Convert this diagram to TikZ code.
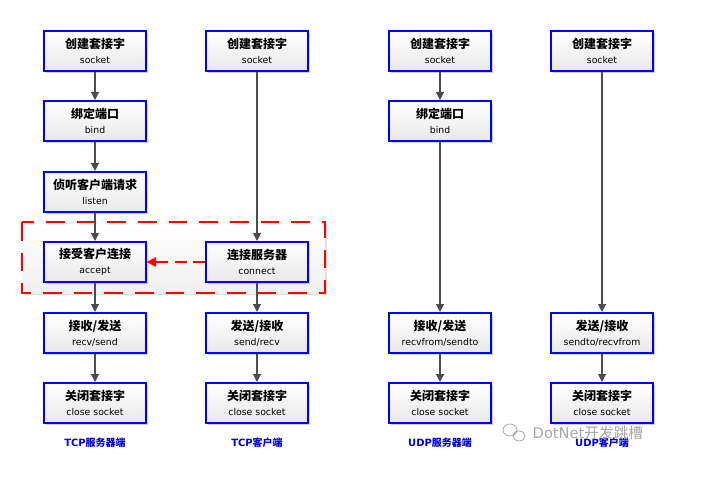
\documentclass[tikz,border=0pt]{standalone}
\usepackage{fontspec}
\setmainfont{DejaVu Sans}
\newfontfamily\cjk{Noto Sans CJK SC}
\usetikzlibrary{shadows,arrows.meta}

\begin{document}
\begin{tikzpicture}[x=0.75pt, y=-0.75pt,
  sockbox/.style={draw=blue, line width=1.5pt, minimum width=76pt, minimum height=30pt,
    inner sep=0pt, align=center, top color=white, bottom color=gray!18,
    drop shadow={shadow xshift=1.5pt, shadow yshift=-1.5pt, fill=gray!60, opacity=0.6},
    font=\fontsize{7}{11}\selectfont},
  flow/.style={draw=black!70, line width=0.8pt, -{Triangle[length=6pt, width=6pt]}},
  sidelabel/.style={text=blue!85!black, font=\fontsize{7.5}{9}\selectfont\bfseries}]
\useasboundingbox (0, 0) rectangle (717, 481);

% connection phase
\draw[red, line width=1.3pt, dash pattern=on 14pt off 9pt, top color=white, bottom color=gray!12,
  drop shadow={shadow xshift=1.5pt, shadow yshift=-1.5pt, fill=gray!50, opacity=0.5}]
  (22, 222) rectangle (325, 293);

% TCP server
\node[sockbox] (tsock) at (95, 51) {{\cjk\bfseries\fontsize{9}{10}\selectfont 创建套接字}\\socket};
\node[sockbox] (tbind) at (95, 121) {{\cjk\bfseries\fontsize{9}{10}\selectfont 绑定端口}\\bind};
\node[sockbox] (tlisten) at (95, 192) {{\cjk\bfseries\fontsize{9}{10}\selectfont 侦听客户端请求}\\listen};
\node[sockbox] (taccept) at (95, 262) {{\cjk\bfseries\fontsize{9}{10}\selectfont 接受客户连接}\\accept};
\node[sockbox] (trecv) at (95, 333) {{\cjk\bfseries\fontsize{9}{10}\selectfont 接收/发送}\\recv/send};
\node[sockbox] (tclose) at (95, 403) {{\cjk\bfseries\fontsize{9}{10}\selectfont 关闭套接字}\\close socket};

% TCP client
\node[sockbox] (csock) at (257, 51) {{\cjk\bfseries\fontsize{9}{10}\selectfont 创建套接字}\\socket};
\node[sockbox] (cconn) at (257, 262) {{\cjk\bfseries\fontsize{9}{10}\selectfont 连接服务器}\\connect};
\node[sockbox] (csend) at (257, 333) {{\cjk\bfseries\fontsize{9}{10}\selectfont 发送/接收}\\send/recv};
\node[sockbox] (cclose) at (257, 403) {{\cjk\bfseries\fontsize{9}{10}\selectfont 关闭套接字}\\close socket};

% UDP server
\node[sockbox] (usock) at (440, 51) {{\cjk\bfseries\fontsize{9}{10}\selectfont 创建套接字}\\socket};
\node[sockbox] (ubind) at (440, 121) {{\cjk\bfseries\fontsize{9}{10}\selectfont 绑定端口}\\bind};
\node[sockbox] (urecv) at (440, 333) {{\cjk\bfseries\fontsize{9}{10}\selectfont 接收/发送}\\recvfrom/sendto};
\node[sockbox] (uclose) at (440, 403) {{\cjk\bfseries\fontsize{9}{10}\selectfont 关闭套接字}\\close socket};

% UDP client
\node[sockbox] (dsock) at (602, 51) {{\cjk\bfseries\fontsize{9}{10}\selectfont 创建套接字}\\socket};
\node[sockbox] (dsend) at (602, 333) {{\cjk\bfseries\fontsize{9}{10}\selectfont 发送/接收}\\sendto/recvfrom};
\node[sockbox] (dclose) at (602, 403) {{\cjk\bfseries\fontsize{9}{10}\selectfont 关闭套接字}\\close socket};

\draw[flow] (tsock) -- (tbind);
\draw[flow] (tbind) -- (tlisten);
\draw[flow] (tlisten) -- (taccept);
\draw[flow] (taccept) -- (trecv);
\draw[flow] (trecv) -- (tclose);
\draw[flow] (csock) -- (cconn);
\draw[flow] (cconn) -- (csend);
\draw[flow] (csend) -- (cclose);
\draw[flow] (usock) -- (ubind);
\draw[flow] (ubind) -- (urecv);
\draw[flow] (urecv) -- (uclose);
\draw[flow] (dsock) -- (dsend);
\draw[flow] (dsend) -- (dclose);
\draw[red, line width=1.1pt, dash pattern=on 9pt off 5pt, -{Triangle[length=7pt, width=7pt]}] (cconn) -- (taccept);

\node[sidelabel] (ltserv) at (95, 443) {TCP{\cjk 服务器端}};
\node[sidelabel] (ltcli) at (257, 443) {TCP{\cjk 客户端}};
\node[sidelabel] (luserv) at (440, 443) {UDP{\cjk 服务器端}};
\node[sidelabel] (lucli) at (602, 443) {UDP{\cjk 客户端}};

% watermark
\draw[gray!70, line width=0.6pt] (510, 430) ellipse (7 and 6);
\draw[gray!70, line width=0.6pt] (519, 436) ellipse (6 and 5);
\node[text=gray!70, anchor=west, font=\fontsize{11}{12}\selectfont] (mark) at (528, 433) {DotNet{\cjk 开发跳槽}};
\end{tikzpicture}
\end{document}
